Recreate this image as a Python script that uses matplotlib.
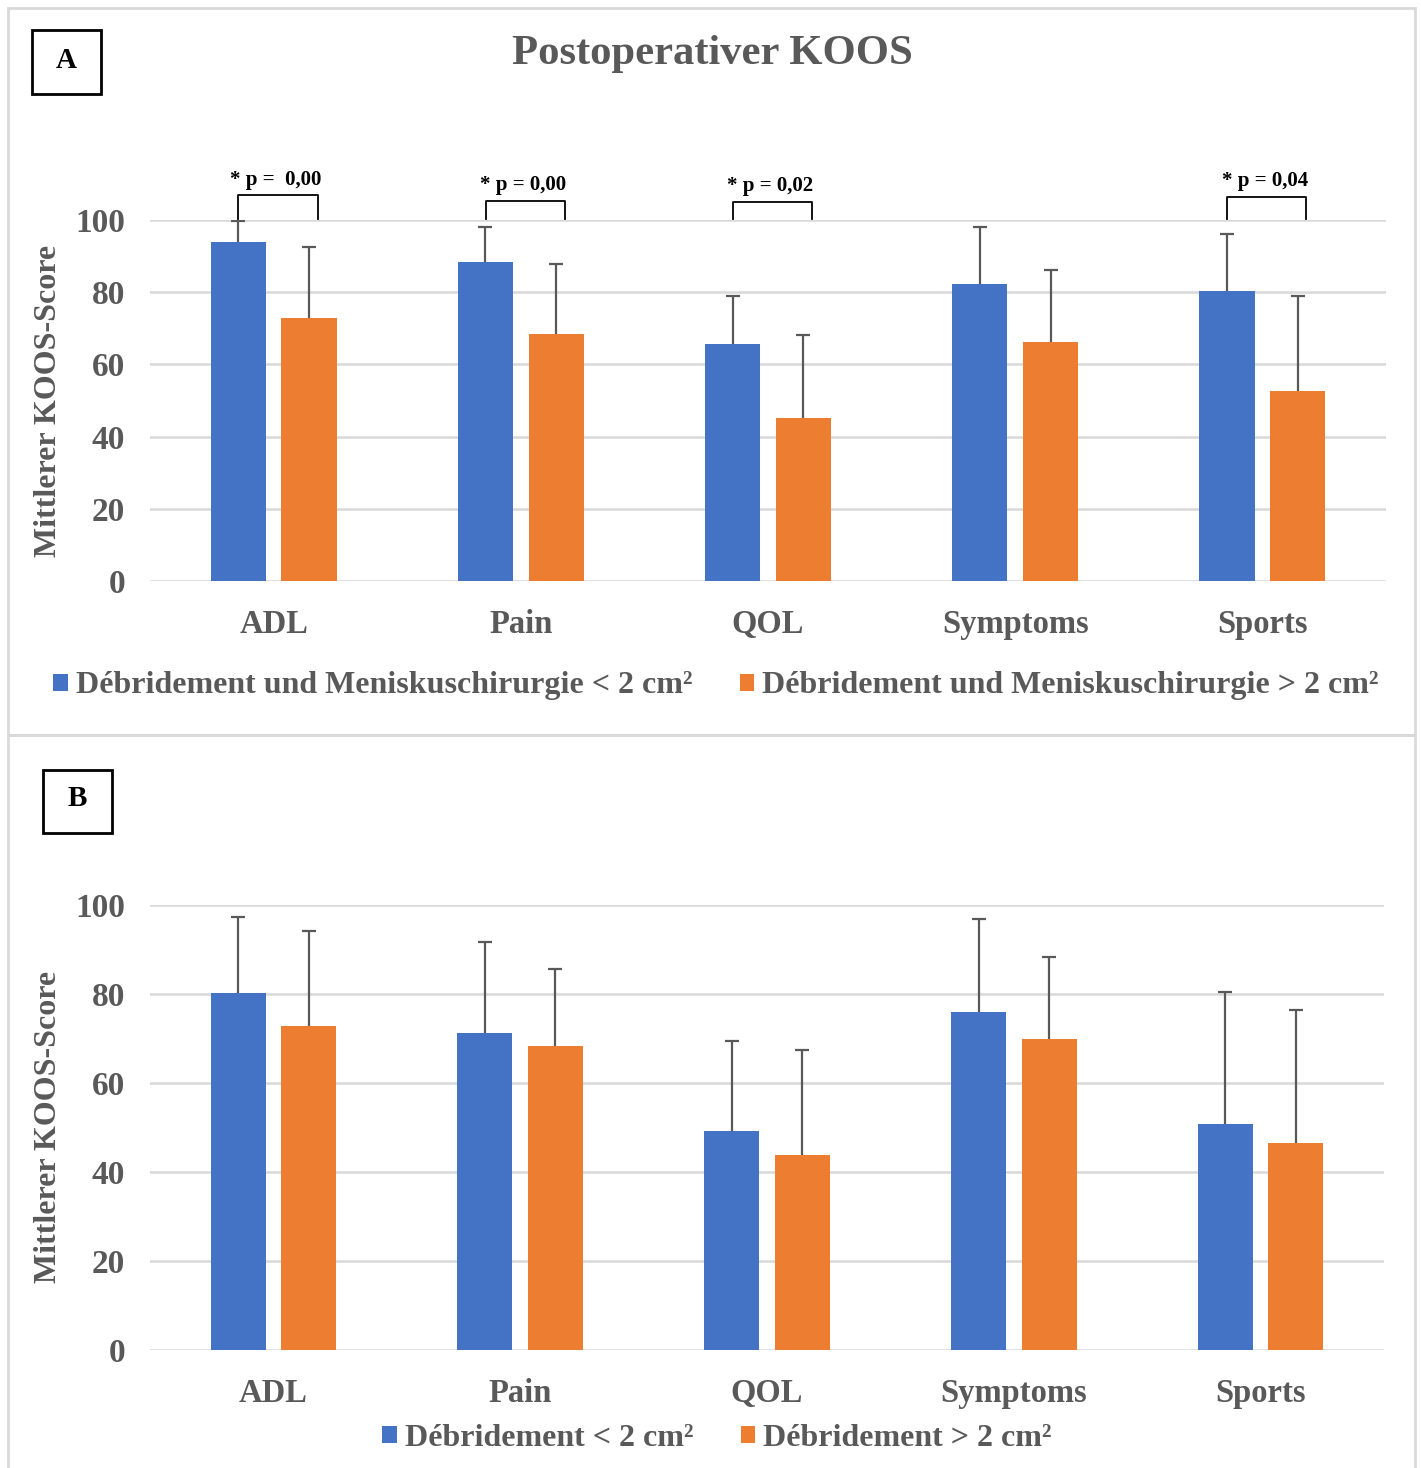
import matplotlib as mpl
mpl.use('agg')
import matplotlib.pyplot as plt
from matplotlib.patches import Rectangle
import numpy as np

plt.rc('font', family='Liberation Serif', weight='bold')

categories = ['ADL', 'Pain', 'QOL', 'Symptoms', 'Sports']

# Panel A: Debridement und Meniskuschirurgie
a_small      = [94.0, 88.5, 65.7, 82.3, 80.3]
a_small_sd   = [5.8, 9.5, 13.2, 15.8, 15.8]
a_large      = [72.8, 68.4, 45.2, 66.2, 52.6]
a_large_sd   = [19.7, 19.3, 22.9, 19.9, 26.3]
a_pvals      = ['* p =  0,00', '* p = 0,00', '* p = 0,02', None, '* p = 0,04']
a_bracket_y  = [106.8, 105.2, 105.0, None, 106.3]

# Panel B: Debridement
b_small      = [80.3, 71.2, 49.2, 76.0, 50.8]
b_small_sd   = [17.1, 20.5, 20.3, 20.9, 29.7]
b_large      = [72.9, 68.3, 43.9, 69.9, 46.5]
b_large_sd   = [21.2, 17.3, 23.5, 18.5, 30.0]

blue = '#4472C4'
orange = '#ED7D31'
grey = '#595959'
grid = '#D9D9D9'

W, H = 1421, 1468
fig = plt.figure(figsize=(W / 100, H / 100), dpi=100)

def px(x0, y0, x1, y1):
    return [x0 / W, 1 - y1 / H, (x1 - x0) / W, (y1 - y0) / H]

# panel frames
fig.patches.append(Rectangle((8 / W, 1 - 735 / H), 1407 / W, 727 / H,
                             transform=fig.transFigure, fill=False,
                             edgecolor=grid, linewidth=2))
fig.patches.append(Rectangle((8 / W, -0.01), 1407 / W, (H - 735) / H + 0.01,
                             transform=fig.transFigure, fill=False,
                             edgecolor=grid, linewidth=2))


def upper_err(ax, x, y, sd):
    eb = ax.errorbar(x, y, yerr=[np.zeros(len(y)), sd], fmt='none',
                     ecolor=grey, elinewidth=1.6, capsize=5, capthick=1.6,
                     zorder=4)
    # hide the cap at the bar top
    eb[1][0].set_visible(False)


def draw(ax, small, small_sd, large, large_sd):
    x = np.arange(len(categories))
    w = 0.223
    b1 = ax.bar(x - 0.143, small, w, color=blue, zorder=3)
    b2 = ax.bar(x + 0.143, large, w, color=orange, zorder=3)
    upper_err(ax, x - 0.143, small, small_sd)
    upper_err(ax, x + 0.143, large, large_sd)
    ax.set_xlim(-0.5, len(categories) - 0.5)
    ax.set_ylim(0, 100)
    ax.set_yticks([0, 20, 40, 60, 80, 100])
    ax.set_xticks(x)
    ax.set_xticklabels(categories)
    ax.yaxis.grid(True, color=grid, linewidth=1.8, zorder=0)
    ax.set_axisbelow(True)
    for s in ax.spines.values():
        s.set_visible(False)
    ax.tick_params(length=0, labelcolor=grey)
    ax.tick_params(axis='y', pad=18, labelsize=24)
    ax.tick_params(axis='x', pad=20, labelsize=23.5)
    return b1, b2


leg_kw = dict(loc='center', ncol=2, frameon=False, fontsize=23,
              labelcolor=grey, handlelength=0.45, handleheight=0.45,
              handletextpad=0.25, columnspacing=1.5)

# ---- Panel A ----
axA = fig.add_axes(px(150, 220, 1386, 581))
b1, b2 = draw(axA, a_small, a_small_sd, a_large, a_large_sd)
for i, (p, yb) in enumerate(zip(a_pvals, a_bracket_y)):
    if p is None:
        continue
    xl, xr = i - 0.142, i + 0.178
    axA.plot([xl, xl, xr, xr], [100.3, yb, yb, 100.3], color='black',
             linewidth=1.3, clip_on=False, zorder=5)
    axA.text(i + 0.01, yb + 1.6, p, ha='center', va='bottom', fontsize=15,
             color='black', clip_on=False)

fig.text(712 / W, 1 - 54 / H, 'Postoperativer KOOS', ha='center', va='center',
         fontsize=30.7, color=grey)
fig.text(49 / W, 1 - 401 / H, 'Mittlerer KOOS-Score', rotation=90,
         ha='center', va='center', fontsize=23, color=grey)
fig.legend([b1, b2], ['Débridement und Meniskuschirurgie < 2 cm²',
                      'Débridement und Meniskuschirurgie > 2 cm²'],
           bbox_to_anchor=(716 / W, 1 - 686 / H), **leg_kw)

fig.patches.append(Rectangle((32 / W, 1 - 94 / H), 69 / W, 64 / H,
                             transform=fig.transFigure, fill=False,
                             edgecolor='black', linewidth=2))
fig.text(66 / W, 1 - 60 / H, 'A', ha='center', va='center', fontsize=21,
         color='black')

# ---- Panel B ----
axB = fig.add_axes(px(150, 905, 1384, 1350))
c1, c2 = draw(axB, b_small, b_small_sd, b_large, b_large_sd)
fig.text(49 / W, 1 - 1127 / H, 'Mittlerer KOOS-Score', rotation=90,
         ha='center', va='center', fontsize=23, color=grey)
fig.legend([c1, c2], ['Débridement < 2 cm²', 'Débridement > 2 cm²'],
           bbox_to_anchor=(717 / W, 1 - 1438 / H), **leg_kw)

fig.patches.append(Rectangle((43 / W, 1 - 833 / H), 69 / W, 63 / H,
                             transform=fig.transFigure, fill=False,
                             edgecolor='black', linewidth=2))
fig.text(77 / W, 1 - 799 / H, 'B', ha='center', va='center', fontsize=21,
         color='black')

fig.savefig('out.png', dpi=100)
